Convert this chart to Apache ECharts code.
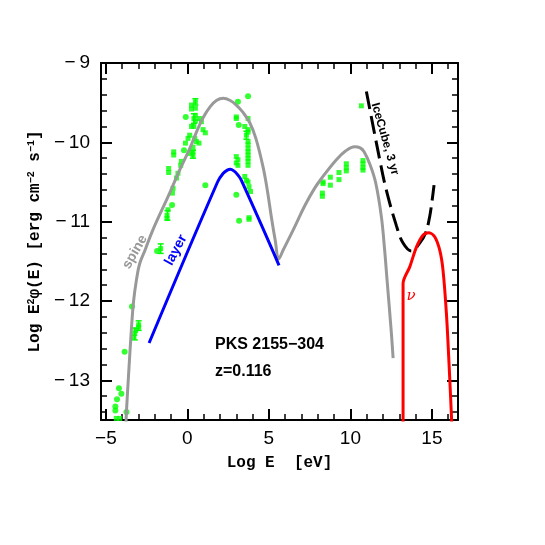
<!DOCTYPE html>
<html>
<head>
<meta charset="utf-8">
<script src="https://cdn.jsdelivr.net/npm/echarts@6/dist/echarts.min.js"></script>
<style>
  html, body { margin: 0; padding: 0; background: #fff; }
  #chart { width: 545px; height: 545px; }
</style>
</head>
<body>
<div id="chart"></div>
<script>
// [log E, log E^2 phi]
const spine = [
  [-3.78, -13.6], [-3.74, -13.4], [-3.6, -12.9], [-3.44, -12.37], [-3.3, -12.0],
  [-3.13, -11.74], [-2.93, -11.53], [-2.6, -11.36], [-2.11, -11.1], [-1.09, -10.64],
  [-0.5, -10.36], [0.14, -10.08], [0.6, -9.85], [0.96, -9.69], [1.4, -9.55],
  [1.8, -9.47], [2.2, -9.445], [2.6, -9.47], [3.0, -9.53], [3.4, -9.62],
  [3.82, -9.75], [4.2, -9.95], [4.64, -10.31], [4.9, -10.6], [5.15, -10.94],
  [5.4, -11.25], [5.6, -11.47], [5.87, -11.36], [6.5, -11.1], [7.2, -10.8],
  [7.8, -10.58], [8.32, -10.43], [9.14, -10.22], [9.7, -10.11], [10.26, -10.055],
  [10.6, -10.07], [10.84, -10.12], [11.2, -10.28], [11.55, -10.51], [11.9, -10.94],
  [12.1, -11.36], [12.25, -11.74], [12.5, -12.37], [12.62, -12.72]
];
const layer = [
  [-2.35, -12.53], [1.85, -10.5], [2.2, -10.39], [2.45, -10.35], [2.64, -10.34],
  [2.85, -10.36], [3.05, -10.4], [3.31, -10.48], [5.62, -11.55]
];
const iceCube = [
  [10.98, -9.36], [11.8, -10.22], [12.2, -10.6], [12.82, -11.05], [13.23, -11.27],
  [13.74, -11.37], [14.25, -11.27], [14.6, -11.15], [14.85, -10.95], [15.0, -10.75],
  [15.13, -10.54]
];
const neutrino = [
  [13.23, -13.6], [13.23, -11.78], [13.64, -11.57], [14.05, -11.32], [14.45, -11.17],
  [14.82, -11.14], [15.17, -11.19], [15.48, -11.36], [15.68, -11.61], [15.89, -12.16],
  [16.05, -12.79], [16.2, -13.46], [16.22, -13.6]
];
const sqPts = [
  [0.49, -9.49], [0.49, -9.57], [0.49, -9.66], [0.49, -9.73], [0.25, -9.53], [0.25, -9.58],
  [0.40, -9.70], [0.75, -9.70], [0.86, -9.74], [0.25, -9.80], [0.40, -9.80], [0.96, -9.84],
  [1.10, -9.88], [0.14, -9.91], [0.04, -9.95], [0.45, -9.95], [0.55, -9.99], [0.71, -10.01],
  [-0.12, -10.01], [0.34, -10.06], [0.34, -10.12], [0.34, -10.16], [-0.84, -10.12],
  [-0.84, -10.16], [0.14, -10.14], [-0.37, -10.24], [-0.41, -10.29], [-1.15, -10.33],
  [-1.15, -10.38], [-0.58, -10.39], [-0.67, -10.45], [-0.88, -10.58], [-0.92, -10.64],
  [-1.19, -10.85], [-1.25, -10.92], [-1.25, -10.96], [-1.64, -11.34],
  [3.0, -9.68], [3.0, -9.70], [3.72, -9.70], [3.52, -9.80], [3.72, -9.84], [3.72, -9.87],
  [3.62, -9.91], [3.72, -9.99], [3.72, -10.03], [3.72, -10.08], [3.72, -10.12], [3.72, -10.16],
  [3.72, -10.20], [3.72, -10.24], [3.72, -10.29], [3.0, -10.18], [3.1, -10.22], [3.0, -10.26],
  [3.1, -10.29], [3.52, -10.43], [3.62, -10.48], [3.72, -10.50], [3.78, -10.56], [3.87, -10.62],
  [3.78, -10.95], [3.78, -10.97],
  [-3.17, -12.37], [-3.23, -12.41], [-3.28, -12.45], [-2.99, -12.30], [-2.99, -12.33],
  [-4.36, -13.48], [-4.15, -13.48],
  [10.67, -9.54], [8.32, -10.50], [8.32, -10.52], [8.28, -10.64], [8.28, -10.68],
  [8.77, -10.44], [8.77, -10.54], [9.30, -10.38], [9.30, -10.47], [9.75, -10.27],
  [9.75, -10.32], [9.75, -10.36], [10.77, -10.23], [10.77, -10.27], [10.77, -10.32], [10.77, -10.35]
];
const dotPts = [
  [-0.10, -9.68], [-0.21, -10.10], [-0.94, -10.79], [1.10, -10.54], [3.72, -9.42], [3.10, -9.49],
  [3.15, -9.78], [3.0, -10.66], [3.17, -10.99], [-1.86, -11.37], [-3.40, -12.07],
  [-3.85, -12.64], [-4.20, -13.10], [-4.05, -13.17], [-4.32, -13.24], [-4.42, -13.33],
  [-4.42, -13.38], [-3.74, -13.40]
];
// [x, low, high]
const errBars = [
  [0.40, -9.64, -9.76], [0.49, -9.45, -9.53], [-1.64, -11.28, -11.40], [-1.22, -10.86, -10.98],
  [-3.23, -12.34, -12.49], [-2.99, -12.25, -12.37], [3.62, -9.86, -9.96], [0.34, -10.10, -10.20]
];

const fmt = (v, step) => (Math.abs(v / step - Math.round(v / step)) < 1e-6 ? String(Math.round(v)).replace('-', '\u2212') : '');
const tickStyle = { color: '#000', width: 2 };
function xAx(pos, lab) {
  return {
    type: 'value', min: -5.3, max: 16.6, position: pos,
    axisLine: { onZero: false, lineStyle: { color: '#000', width: 2 } },
    axisTick: { inside: true, length: 11, lineStyle: tickStyle },
    minorTick: { show: true, splitNumber: 5, length: 6, lineStyle: { color: '#000', width: 1.5 } },
    splitLine: { show: false },
    axisLabel: { show: lab, margin: 9, color: '#000', fontFamily: 'Liberation Sans', fontSize: 19,
      showMinLabel: false, showMaxLabel: false, formatter: v => fmt(v, 5) }
  };
}
function yAx(pos, lab) {
  return {
    type: 'value', min: -13.5, max: -9, position: pos,
    axisLine: { onZero: false, lineStyle: { color: '#000', width: 2 } },
    axisTick: { inside: true, length: 11, lineStyle: tickStyle },
    minorTick: { show: true, splitNumber: 5, length: 6, lineStyle: { color: '#000', width: 1.5 } },
    splitLine: { show: false },
    axisLabel: { show: lab, margin: 11, color: '#000', fontFamily: 'Liberation Sans', fontSize: 19,
      showMinLabel: false, formatter: v => fmt(v, 1).replace('\u2212', '\u2212\u2009') }
  };
}

const chart = echarts.init(document.getElementById('chart'));
const bottomX = xAx('bottom', true);
bottomX.name = 'Log E  [eV]';
bottomX.nameLocation = 'middle';
bottomX.nameGap = 35;
bottomX.nameTextStyle = { color: '#000', fontFamily: 'Liberation Mono', fontWeight: 'bold', fontSize: 16 };
const leftY = yAx('left', true);
leftY.name = 'Log E{s|2}\u03c6(E) [erg cm{s|\u22122} s{s|\u22121}]';
leftY.nameLocation = 'middle';
leftY.nameGap = 56;
leftY.nameTextStyle = { color: '#000', fontFamily: 'Liberation Mono', fontWeight: 'bold', fontSize: 16,
  rich: { s: { fontFamily: 'Liberation Mono', fontWeight: 'bold', fontSize: 10, verticalAlign: 'bottom', padding: [0, 0, 8, 0] } } };

const lbl = (text, x, y, rotDeg, color, size, extra) => ({
  type: 'text', x: x, y: y, rotation: rotDeg * Math.PI / 180,
  style: Object.assign({ text: text, fill: color, fontFamily: 'Liberation Sans', fontWeight: 'bold',
    fontSize: size, align: 'center', verticalAlign: 'middle' }, extra || {})
});

chart.setOption({
  animation: false,
  grid: { left: 101, right: 87, top: 63, bottom: 125 },
  xAxis: [bottomX, xAx('top', false)],
  yAxis: [leftY, yAx('right', false)],
  series: [
    { type: 'scatter', data: sqPts, symbol: 'rect', symbolSize: 5, itemStyle: { color: '#00ff00' }, z: 2 },
    { type: 'scatter', data: dotPts, symbol: 'circle', symbolSize: 6, itemStyle: { color: '#00ff00' }, z: 2 },
    { type: 'custom', data: errBars, z: 2,
      renderItem: function (params, api) {
        const lo = api.coord([api.value(0), api.value(1)]);
        const hi = api.coord([api.value(0), api.value(2)]);
        const st = { stroke: '#00ff00', lineWidth: 1.5 };
        return { type: 'group', children: [
          { type: 'line', shape: { x1: lo[0], y1: lo[1], x2: hi[0], y2: hi[1] }, style: st },
          { type: 'line', shape: { x1: lo[0] - 3, y1: lo[1], x2: lo[0] + 3, y2: lo[1] }, style: st },
          { type: 'line', shape: { x1: hi[0] - 3, y1: hi[1], x2: hi[0] + 3, y2: hi[1] }, style: st }
        ] };
      } },
    { type: 'line', data: spine, smooth: 0.4, showSymbol: false, lineStyle: { color: '#999999', width: 3 }, z: 3 },
    { type: 'line', data: layer, smooth: 0.4, showSymbol: false, lineStyle: { color: '#0000ff', width: 3 }, z: 3 },
    { type: 'line', data: iceCube, smooth: 0.4, showSymbol: false, lineStyle: { color: '#000', width: 3, type: [18, 7] }, z: 3 },
    { type: 'line', data: neutrino, smooth: 0.3, showSymbol: false, lineStyle: { color: '#ff0000', width: 3 }, z: 3 }
  ],
  graphic: [
    lbl('spine', 135, 252, 60, '#999999', 14),
    lbl('layer', 176, 250, 62, '#0000ff', 14),
    lbl('IceCube, 3 yr', 385, 139, -74, '#000', 12),
    lbl('\u03bd', 411, 296, 0, '#ff0000', 15, { fontFamily: 'DejaVu Serif', fontStyle: 'italic', fontWeight: 'normal' }),
    lbl('PKS 2155\u2212304', 215, 345, 0, '#000', 16, { align: 'left' }),
    lbl('z=0.116', 215, 372, 0, '#000', 16, { align: 'left' })
  ]
});
</script>
</body>
</html>
